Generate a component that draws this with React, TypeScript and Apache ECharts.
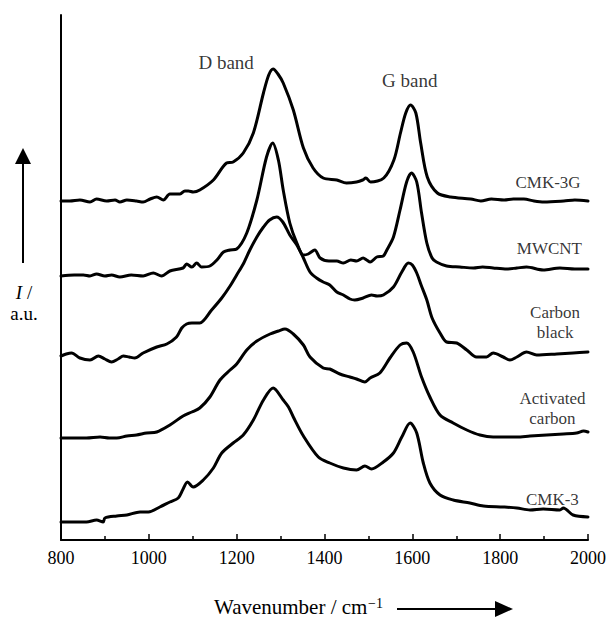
import { useEffect, useRef } from "react";
import * as echarts from "echarts";

// Wavenumber (cm-1), intensity (a.u., stacked offsets)
const cmk3g: [number, number][] = [
  [800, 339], [820, 339], [843, 340], [866, 338], [881, 341], [904, 339], [923, 340], [934, 338],
  [950, 340], [972, 339], [987, 338], [1003, 341], [1018, 343], [1033, 340], [1048, 346], [1071, 346],
  [1082, 349], [1090, 349], [1101, 348], [1116, 350], [1147, 360], [1177, 377], [1192, 378], [1215, 387],
  [1238, 407], [1261, 447], [1273, 465], [1283, 471], [1294, 466], [1306, 457], [1329, 430], [1352, 392],
  [1374, 372], [1397, 362], [1428, 360], [1450, 357], [1473, 358], [1487, 360], [1494, 362], [1505, 358],
  [1535, 362], [1558, 380], [1573, 407], [1585, 427], [1596, 435], [1608, 427], [1619, 397], [1634, 363],
  [1657, 347], [1687, 343], [1733, 341], [1756, 339], [1780, 341], [1809, 340], [1830, 341], [1854, 341],
  [1877, 339], [1900, 338], [1945, 339], [1970, 340], [2000, 339],
];

const mwcnt: [number, number][] = [
  [800, 264], [830, 265], [851, 265], [866, 264], [881, 266], [900, 264], [915, 265], [934, 263],
  [960, 265], [987, 264], [1010, 267], [1029, 264], [1048, 269], [1078, 272], [1086, 276], [1098, 273],
  [1109, 277], [1120, 273], [1139, 274], [1155, 280], [1170, 288], [1185, 290], [1200, 291], [1223, 307],
  [1246, 340], [1268, 383], [1282, 397], [1295, 380], [1306, 350], [1321, 317], [1337, 297], [1352, 285],
  [1363, 286], [1378, 290], [1390, 282], [1410, 279], [1428, 279], [1443, 277], [1460, 280], [1473, 279],
  [1488, 282], [1496, 280], [1504, 278], [1519, 283], [1534, 284], [1542, 290], [1557, 303], [1572, 330],
  [1587, 358], [1598, 367], [1610, 358], [1621, 327], [1633, 297], [1645, 282], [1655, 278], [1678, 274],
  [1708, 273], [1739, 272], [1760, 273], [1784, 272], [1815, 271], [1838, 272], [1860, 273], [1898, 270],
  [1936, 272], [1970, 271], [2000, 271],
];

const carbonBlack: [number, number][] = [
  [800, 184], [812, 186], [824, 187], [843, 182], [866, 180], [885, 184], [900, 181], [915, 178],
  [930, 181], [942, 184], [955, 183], [968, 182], [987, 187], [1018, 193], [1041, 196], [1063, 203],
  [1075, 212], [1086, 216], [1098, 217], [1116, 217], [1143, 230], [1166, 242], [1185, 254], [1200, 265],
  [1215, 276], [1230, 290], [1246, 303], [1261, 313], [1275, 320], [1291, 323], [1305, 318], [1321, 305],
  [1337, 295], [1352, 282], [1367, 268], [1382, 262], [1397, 258], [1412, 255], [1428, 248], [1443, 245],
  [1458, 241], [1469, 240], [1488, 242], [1507, 245], [1520, 244], [1534, 245], [1557, 253], [1576, 268],
  [1591, 277], [1600, 275], [1610, 267], [1620, 255], [1633, 240], [1645, 222], [1663, 207], [1678, 198],
  [1701, 197], [1724, 190], [1746, 183], [1769, 183], [1784, 187], [1807, 183], [1822, 180], [1838, 183],
  [1860, 188], [1883, 185], [1929, 186], [1966, 187], [2000, 188],
];

const activatedCarbon: [number, number][] = [
  [800, 102], [828, 102], [858, 102], [889, 103], [910, 102], [927, 102], [950, 104], [972, 105],
  [995, 107], [1018, 108], [1048, 115], [1078, 124], [1098, 128], [1116, 132], [1139, 143], [1162, 160],
  [1185, 170], [1200, 176], [1223, 190], [1246, 199], [1276, 206], [1295, 209], [1310, 211], [1329, 206],
  [1352, 195], [1367, 183], [1397, 172], [1412, 171], [1435, 166], [1458, 163], [1473, 161], [1492, 158],
  [1504, 162], [1526, 167], [1549, 182], [1572, 195], [1587, 197], [1602, 188], [1621, 163], [1640, 143],
  [1663, 125], [1693, 117], [1724, 110], [1754, 105], [1784, 103], [1815, 103], [1838, 103], [1868, 104],
  [1906, 105], [1944, 106], [1974, 107], [1990, 109], [2000, 108],
];

const cmk3: [number, number][] = [
  [800, 18], [828, 18], [858, 18], [881, 20], [896, 18], [900, 22], [927, 24], [950, 25],
  [980, 28], [999, 28], [1025, 33], [1048, 38], [1067, 42], [1077, 50], [1088, 58], [1101, 53],
  [1124, 60], [1147, 72], [1166, 87], [1192, 97], [1215, 105], [1238, 120], [1261, 140], [1283, 152],
  [1306, 140], [1318, 133], [1329, 123], [1352, 104], [1386, 83], [1412, 77], [1443, 72], [1473, 70],
  [1492, 74], [1507, 71], [1534, 78], [1557, 87], [1576, 103], [1595, 117], [1610, 107], [1625, 77],
  [1640, 57], [1663, 45], [1693, 40], [1731, 37], [1762, 34], [1807, 33], [1838, 32], [1868, 30],
  [1898, 31], [1936, 30], [1944, 32], [1966, 25], [2000, 23],
];

const spectra = [
  { name: "CMK-3G", data: cmk3g },
  { name: "MWCNT", data: mwcnt },
  { name: "Carbon black", data: carbonBlack },
  { name: "Activated carbon", data: activatedCarbon },
  { name: "CMK-3", data: cmk3 },
];

// Text annotations anchored in data coordinates
const bandLabels = [
  { text: "D band", at: [1176, 478] },
  { text: "G band", at: [1594, 460] },
];
const sampleLabels = [
  { text: "CMK-3G", at: [1909, 358] },
  { text: "MWCNT", at: [1912, 292] },
  { text: "Carbon\nblack", at: [1925, 218] },
  { text: "Activated\ncarbon", at: [1919, 132] },
  { text: "CMK-3", at: [1919, 41] },
];

const xMin = 800;
const xMax = 2000;
const yMin = 0;
const yMax = 525;

export default function App() {
  const ref = useRef<HTMLDivElement>(null);

  useEffect(() => {
    if (!ref.current) return;
    const chart = echarts.init(ref.current, null, { renderer: "svg" });
    const serif = "Liberation Serif";

    const lineSeries = spectra.map((s) => ({
      type: "line",
      name: s.name,
      data: s.data,
      showSymbol: false,
      smooth: 0.3,
      silent: true,
      lineStyle: { color: "#000", width: 3, cap: "round", join: "round" },
      z: 3,
    }));

    const labelSeries = {
      type: "scatter",
      symbolSize: 1,
      silent: true,
      itemStyle: { color: "transparent" },
      z: 4,
      data: [
        ...bandLabels.map((l) => ({
          value: l.at,
          label: { formatter: l.text, fontSize: 19 },
        })),
        ...sampleLabels.map((l) => ({
          value: l.at,
          label: { formatter: l.text, fontSize: 17, lineHeight: 20 },
        })),
      ],
      label: {
        show: true,
        position: "inside",
        color: "#000",
        fontFamily: serif,
        align: "center",
        verticalAlign: "middle",
      },
    };

    const txt = (size: number, extra: Record<string, unknown> = {}) => ({
      fill: "#000",
      fontSize: size,
      fontFamily: serif,
      ...extra,
    });

    chart.setOption({
      animation: false,
      backgroundColor: "#fff",
      textStyle: { fontFamily: serif },
      grid: { left: 61, right: 20, top: 15, bottom: 79, containLabel: false, outerBoundsMode: "none" },
      xAxis: {
        type: "value",
        min: xMin,
        max: xMax,
        interval: 200,
        axisLine: { show: true, lineStyle: { color: "#000", width: 2 } },
        axisTick: { show: true, inside: true, length: 6, lineStyle: { color: "#000", width: 1.5 } },
        minorTick: { show: true, splitNumber: 2, length: 4, lineStyle: { color: "#000", width: 1.5 } },
        splitLine: { show: false },
        minorSplitLine: { show: false },
        axisLabel: {
          color: "#000",
          fontFamily: serif,
          fontSize: 18,
          margin: 9,
          formatter: (v: number) => String(v),
        },
      },
      yAxis: {
        type: "value",
        min: yMin,
        max: yMax,
        axisLine: { show: true, lineStyle: { color: "#000", width: 2 } },
        axisTick: { show: false },
        axisLabel: { show: false },
        splitLine: { show: false },
      },
      graphic: [
        {
          type: "line",
          shape: { x1: 23, y1: 263, x2: 23, y2: 160 },
          style: { stroke: "#000", lineWidth: 2 },
        },
        {
          type: "polygon",
          shape: { points: [[15, 164], [31, 164], [23, 148]] },
          style: { fill: "#000" },
        },
        {
          type: "text",
          x: 24,
          y: 292,
          style: txt(19, {
            text: "{i|I} /",
            align: "center",
            verticalAlign: "middle",
            rich: {
              i: { fontStyle: "italic", fontSize: 19, fontFamily: serif, fill: "#000" },
            },
          }),
        },
        {
          type: "text",
          x: 24,
          y: 313,
          style: txt(19, { text: "a.u.", align: "center", verticalAlign: "middle" }),
        },
        {
          type: "text",
          x: 214,
          y: 607,
          style: txt(21, { text: "Wavenumber / cm", align: "left", verticalAlign: "middle" }),
        },
        {
          type: "text",
          x: 368,
          y: 603,
          style: txt(14, { text: "−1", align: "left", verticalAlign: "middle" }),
        },
        {
          type: "line",
          shape: { x1: 397, y1: 609, x2: 500, y2: 609 },
          style: { stroke: "#000", lineWidth: 2 },
        },
        {
          type: "polygon",
          shape: { points: [[495, 601], [495, 617], [513, 609]] },
          style: { fill: "#000" },
        },
      ],
      series: [...lineSeries, labelSeries],
    });

    return () => chart.dispose();
  }, []);

  return (
    <div
      ref={ref}
      style={{ position: "absolute", left: 0, top: 0, width: 608, height: 619, background: "#fff" }}
    />
  );
}
